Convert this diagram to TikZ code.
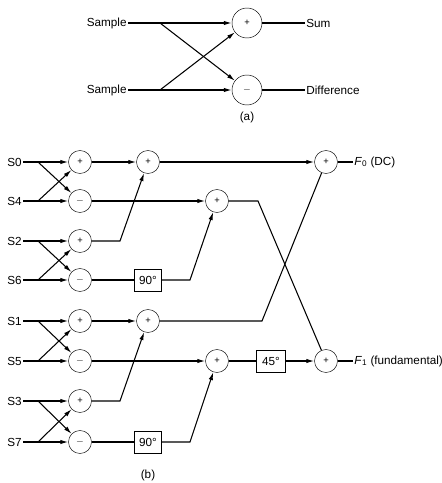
\documentclass[tikz,border=0pt]{standalone}
\usepackage{fontspec}
\setmainfont{Liberation Sans}
\usetikzlibrary{arrows.meta}
\tikzset{
  sm/.style={draw,circle,inner sep=0pt,minimum size=0.69cm,font=\footnotesize},
  smb/.style={sm,minimum size=0.9cm},
  ph/.style={draw,rectangle,inner sep=0pt,minimum width=0.82cm,minimum height=0.66cm},
  lb/.style={inner sep=1pt},
  ar/.style={line width=0.9pt,-{Latex[length=2.4mm,width=1.3mm]}},
  ln/.style={line width=0.9pt}
}
% one butterfly: inputs S#1 and S#2 at heights #3 and #4
\newcommand{\bfly}[4]{%
  \node[lb,anchor=east] (in#1) at (23,#3) {S#1};
  \node[lb,anchor=east] (in#2) at (23,#4) {S#2};
  \node[sm] (p#1) at (80,#3) {+};
  \node[sm] (m#2) at (80,#4) {$-$};
  \coordinate (j#1) at (38,#3); \coordinate (j#2) at (38,#4);
  \draw[ar] (in#1) -- (p#1); \draw[ar] (in#2) -- (m#2);
  \draw[ar] (j#1) -- (m#2); \draw[ar] (j#2) -- (p#1);
}

\begin{document}
\begin{tikzpicture}[x=0.03cm,y=-0.03cm]
\useasboundingbox (0,0) rectangle (441,483);
% (a)
\node[lb,anchor=east] (sa1) at (128,23) {Sample};
\node[lb,anchor=east] (sa2) at (128,90) {Sample};
\node[smb] (ap) at (247,23) {+};
\node[smb] (am) at (247,90) {$-$};
\node[lb,anchor=west] (sum) at (305,23) {Sum};
\node[lb,anchor=west] (dif) at (305,90) {Difference};
\coordinate (ja1) at (160,23); \coordinate (ja2) at (160,90);
\draw[ar] (sa1) -- (ap); \draw[ar] (sa2) -- (am);
\draw[ar] (ja1) -- (am); \draw[ar] (ja2) -- (ap);
\draw[ln] (ap) -- (sum); \draw[ln] (am) -- (dif);
\node (capa) at (247,117) {(a)};

% (b) first stage
\bfly{0}{4}{162}{201}
\bfly{2}{6}{241}{280}
\bfly{1}{5}{321}{361}
\bfly{3}{7}{401}{442}

% (b) second stage
\node[sm] (q0) at (148,162) {+};
\node[sm] (q4) at (217,201) {+};
\node[ph] (d6) at (148,280) {90°};
\coordinate (k2) at (120,241); \coordinate (k6) at (190,280);
\draw[ar] (p0) -- (q0); \draw[ar] (m4) -- (q4);
\draw[ar] (p2) -- (k2) -- (q0);
\draw[ln] (m6) -- (d6); \draw[ar] (d6) -- (k6) -- (q4);

\node[sm] (q1) at (148,321) {+};
\node[sm] (q5) at (217,361) {+};
\node[ph] (d7) at (148,442) {90°};
\coordinate (k3) at (120,401); \coordinate (k7) at (190,442);
\draw[ar] (p1) -- (q1); \draw[ar] (m5) -- (q5);
\draw[ar] (p3) -- (k3) -- (q1);
\draw[ln] (m7) -- (d7); \draw[ar] (d7) -- (k7) -- (q5);

% (b) output stage
\node[sm] (f0) at (326,162) {+};
\node[sm] (f1) at (326,361) {+};
\node[ph,minimum width=0.87cm] (d45) at (271,361) {45°};
\node[lb,anchor=west] (o0) at (353,162) {\textit{F}\textsubscript{0} (DC)};
\node[lb,anchor=west] (o1) at (353,361) {\textit{F}\textsubscript{1} (fundamental)};
\coordinate (k4) at (258,201); \coordinate (k1) at (262,321);
\draw[ar] (q0) -- (f0); \draw[ln] (f0) -- (o0);
\draw[ln] (q4) -- (k4) -- (f1);
\draw[ln] (q1) -- (k1) -- (f0);
\draw[ln] (q5) -- (d45); \draw[ar] (d45) -- (f1); \draw[ln] (f1) -- (o1);
\node (capb) at (148,475) {(b)};
\end{tikzpicture}
\end{document}
